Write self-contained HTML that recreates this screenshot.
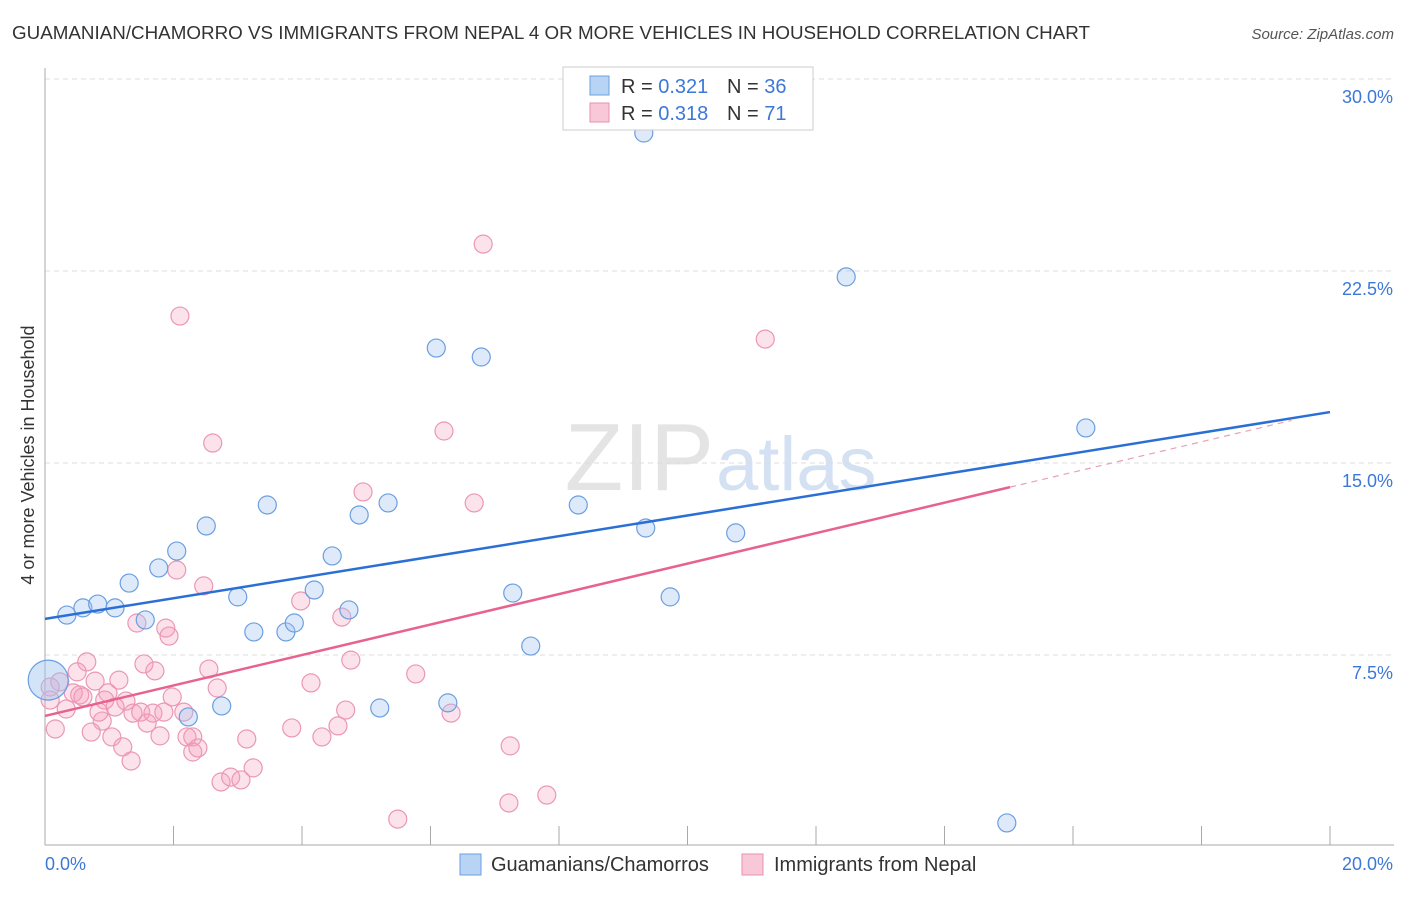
<!DOCTYPE html>
<html><head><meta charset="utf-8"><style>
body{margin:0;background:#fff;font-family:"Liberation Sans",sans-serif;}
svg text{font-family:"Liberation Sans",sans-serif;}
</style></head><body>
<svg id="c" width="1406" height="892" xmlns="http://www.w3.org/2000/svg">
<text x="12" y="39" font-size="18" fill="#333" textLength="1078" lengthAdjust="spacingAndGlyphs">GUAMANIAN/CHAMORRO VS IMMIGRANTS FROM NEPAL 4 OR MORE VEHICLES IN HOUSEHOLD CORRELATION CHART</text>
<text x="1394" y="39" font-size="15" fill="#555" font-style="italic" text-anchor="end">Source: ZipAtlas.com</text>
<text x="714" y="490" font-size="96" fill="#e4e4e4" text-anchor="end" font-family="Liberation Serif">ZIP</text>
<text x="716" y="490" font-size="76" fill="#d4e1f3">atlas</text>
<text transform="translate(34,455) rotate(-90)" font-size="18" fill="#333" text-anchor="middle">4 or more Vehicles in Household</text>
<g id="grid"></g><g id="axes"></g><g id="pts"></g><g id="lines"></g>
<g>
<rect x="563" y="67" width="250" height="63" fill="#fff" stroke="#ccc"/>
<rect x="590" y="76" width="19" height="19" fill="#b8d4f4" stroke="#6a9fe0"/>
<rect x="590" y="103" width="19" height="19" fill="#f8c8d8" stroke="#e890b0"/>
<text x="621" y="93" font-size="20" fill="#333">R = <tspan fill="#3b78d8">0.321</tspan></text>
<text x="727" y="93" font-size="20" fill="#333">N = <tspan fill="#3b78d8">36</tspan></text>
<text x="621" y="120" font-size="20" fill="#333">R = <tspan fill="#3b78d8">0.318</tspan></text>
<text x="727" y="120" font-size="20" fill="#333">N =  <tspan fill="#3b78d8">71</tspan></text>
</g>
<g>
<rect x="460" y="854" width="21" height="21" fill="#b8d4f4" stroke="#6a9fe0"/>
<text x="491" y="871" font-size="20" fill="#333">Guamanians/Chamorros</text>
<rect x="742" y="854" width="21" height="21" fill="#f8c8d8" stroke="#e890b0"/>
<text x="774" y="871" font-size="20" fill="#333">Immigrants from Nepal</text>
</g>
</svg>
<script>
const xTicks=[0,2,4,6,8,10,12,14,16,18,20];
const yTicks=[7.5,15,22.5,30];
const yTickLabels=["7.5%","15.0%","22.5%","30.0%"];
const blueX=[0.34,0.59,0.82,1.09,1.31,1.56,1.77,2.05,2.23,2.51,2.75,3.00,3.25,3.46,3.75,3.88,4.19,4.47,4.73,4.89,5.21,5.34,6.09,6.27,6.79,7.28,7.56,8.30,9.32,9.35,9.73,10.75,12.47,14.97,16.20];
const blueY=[9.06,9.34,9.49,9.34,10.31,8.87,10.90,11.56,5.08,12.54,5.51,9.77,8.40,13.36,8.40,8.75,10.04,11.37,9.26,12.97,5.43,13.44,19.49,5.63,19.14,9.92,7.85,13.36,27.89,12.46,9.77,12.27,22.27,0.94,16.37];
const pinkX=[2.05,2.47,1.43,1.88,1.93,3.98,4.62,4.76,5.77,4.14,0.65,0.50,0.78,1.15,1.54,1.71,2.55,2.68,1.98,1.26,0.98,0.93,0.54,0.44,0.23,0.08,0.08,0.16,0.33,0.59,1.09,1.37,1.49,1.68,1.85,2.16,1.59,0.89,0.84,0.72,1.04,1.21,1.34,1.79,2.21,2.30,2.30,2.38,3.14,3.24,2.74,2.89,3.05,3.84,4.31,4.56,4.68,6.32,5.49,2.10,6.82,11.21,2.61,6.21,4.95,6.68,7.24,7.22,7.81];
const pinkY=[10.82,10.20,8.75,8.55,8.24,9.61,8.98,7.30,6.76,6.41,7.23,6.84,6.48,6.52,7.15,6.88,6.95,6.21,5.86,5.70,6.02,5.74,5.94,6.02,6.45,6.25,5.74,4.61,5.39,5.86,5.47,5.23,5.27,5.23,5.27,5.27,4.84,4.92,5.27,4.49,4.30,3.91,3.36,4.34,4.30,4.30,3.71,3.87,4.22,3.09,2.54,2.73,2.62,4.65,4.30,4.73,5.35,5.23,1.09,20.74,23.55,19.84,15.78,16.25,13.87,13.44,3.95,1.72,2.03];
const blueTrend=[8.91,16.99];
const pinkTrend=[5.12,17.02];
const pinkSolidEnd=15.02;
const bigX=0.05, bigY=6.52;

const NS="http://www.w3.org/2000/svg";
const X=v=>45+v/20*1285;
const Y=v=>847-v/7.5*192;
function mk(tag,attrs,parent){const e=document.createElementNS(NS,tag);for(const k in attrs)e.setAttribute(k,attrs[k]);document.getElementById(parent).appendChild(e);return e;}
yTicks.forEach((t,i)=>{
 const g=mk('line',{x1:45,x2:1394,y1:Y(t),y2:Y(t),stroke:'#ddd','stroke-dasharray':'5,4'},'grid');
 
 
 const l=mk('text',{x:1393,y:Y(t)+24,'font-size':18,fill:'#3b78d8','text-anchor':'end'},'grid');
 l.textContent=yTickLabels[i];
 
 
});
const ax=mk('line',{x1:45,x2:45,y1:68,y2:845,stroke:'#aaa'},'axes');


const bx=mk('line',{x1:45,x2:1394,y1:845,y2:845,stroke:'#aaa'},'axes');


xTicks.forEach(t=>{
 const k=mk('line',{x1:X(t),x2:X(t),y1:826,y2:845,stroke:'#aaa'},'axes');
 
 
});
const x0=mk('text',{x:45,y:870,'font-size':18,fill:'#3b78d8'},'axes');x0.textContent='0.0%';


const x1=mk('text',{x:1393,y:870,'font-size':18,fill:'#3b78d8','text-anchor':'end'},'axes');x1.textContent='20.0%';


pinkX.forEach((v,i)=>{
 const c=mk('circle',{cx:X(v),cy:Y(pinkY[i]),r:9,fill:'rgba(245,160,190,0.3)',stroke:'#eb97b4','stroke-width':1.2},'pts');
 
 
});
blueX.forEach((v,i)=>{
 const c=mk('circle',{cx:X(v),cy:Y(blueY[i]),r:9,fill:'rgba(160,195,240,0.35)',stroke:'#6a9fe0','stroke-width':1.2},'pts');
 
 
});
const big=mk('circle',{cx:X(bigX),cy:Y(bigY),r:20,fill:'rgba(160,195,240,0.45)',stroke:'#6a9fe0','stroke-width':1.2},'pts');


const py=x=>pinkTrend[0]+(pinkTrend[1]-pinkTrend[0])*x/20;
const bl=mk('line',{x1:X(0),y1:Y(blueTrend[0]),x2:X(20),y2:Y(blueTrend[1]),stroke:'#2a6fd6','stroke-width':2.5},'lines');


const pl=mk('line',{x1:X(0),y1:Y(py(0)),x2:X(pinkSolidEnd),y2:Y(py(pinkSolidEnd)),stroke:'#e8628f','stroke-width':2.5},'lines');


const pd=mk('line',{x1:X(pinkSolidEnd),y1:Y(py(pinkSolidEnd)),x2:X(19.4),y2:Y(py(19.4)),stroke:'#e8a0b8','stroke-width':1.2,'stroke-dasharray':'6,5'},'lines');


</script>
</body></html>
